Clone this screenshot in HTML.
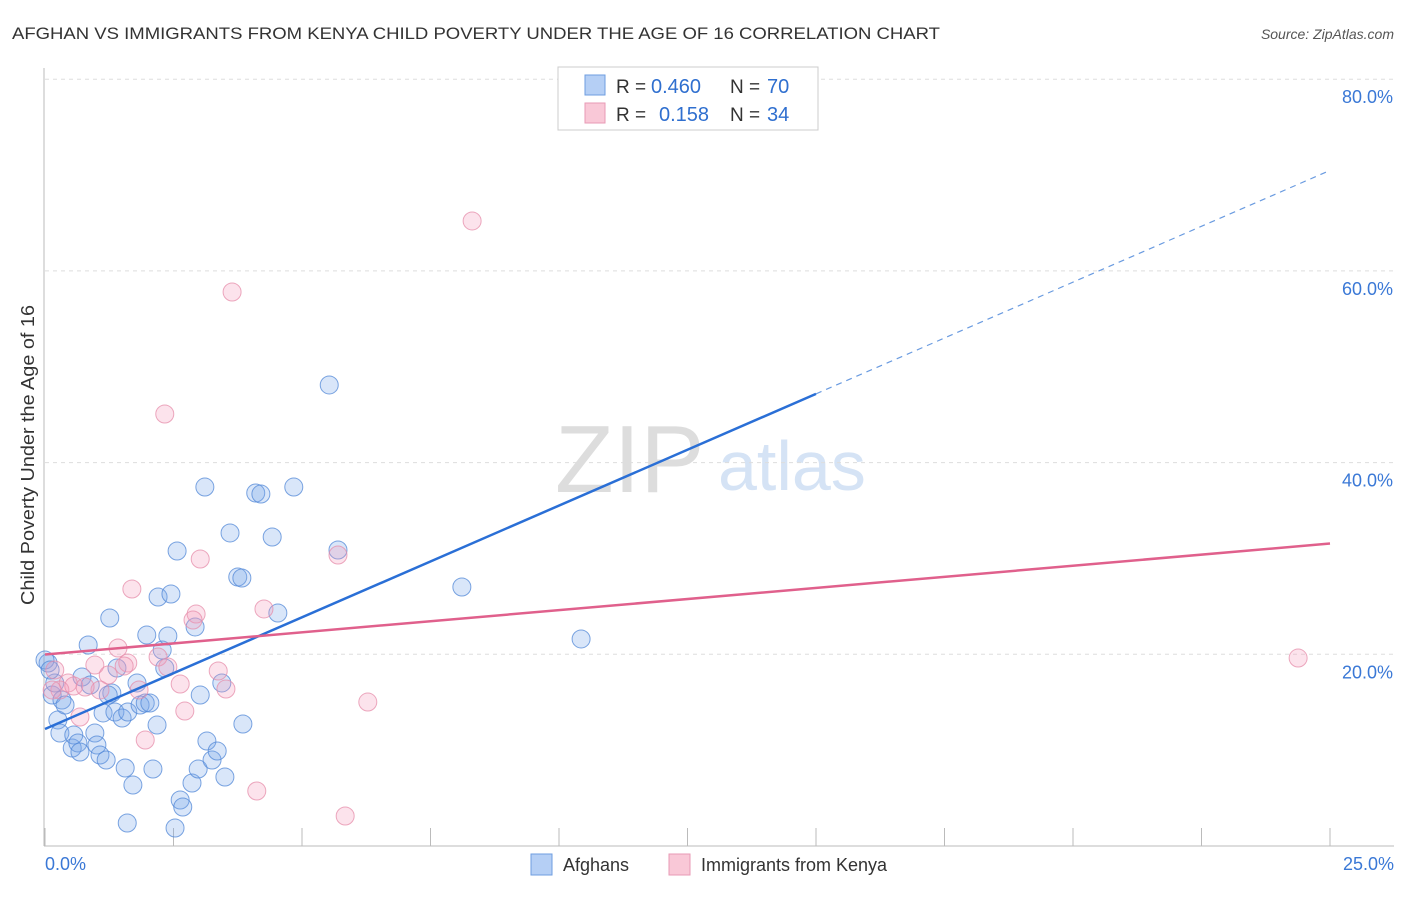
<!DOCTYPE html>
<html><head><meta charset="utf-8"><style>
body{margin:0;background:#fff;font-family:"Liberation Sans",sans-serif}
svg text{font-family:"Liberation Sans",sans-serif}
</style></head><body>
<svg id="c" width="1406" height="892" xmlns="http://www.w3.org/2000/svg">
<text x="12" y="39" font-size="17" fill="#333" textLength="928" lengthAdjust="spacingAndGlyphs">AFGHAN VS IMMIGRANTS FROM KENYA CHILD POVERTY UNDER THE AGE OF 16 CORRELATION CHART</text>
<text x="1394" y="39" font-size="14" fill="#555" font-style="italic" text-anchor="end">Source: ZipAtlas.com</text>
<text x="34" y="455" font-size="18" fill="#333" text-anchor="middle" textLength="300" lengthAdjust="spacingAndGlyphs" transform="rotate(-90 34 455)">Child Poverty Under the Age of 16</text>
<g>
<text x="555" y="492" font-size="96" fill="#ddd" font-family="Liberation Serif, serif">ZIP</text>
<text x="718" y="490" font-size="70" fill="#d5e3f5">atlas</text>
</g>
<g id="grid"></g><g id="axes"></g><g id="pts"></g><g id="lines"></g>
<g>
<rect x="558" y="67" width="260" height="63" fill="#fff" stroke="#ccc"/>
<rect x="585" y="75" width="20" height="20" fill="#b5cff5" stroke="#6e9de0"/>
<rect x="585" y="103" width="20" height="20" fill="#f9c8d7" stroke="#e89ab5"/>
<text x="616" y="93" font-size="19" fill="#333">R =</text>
<text x="651" y="93" font-size="20" fill="#2f6fcf">0.460</text>
<text x="730" y="93" font-size="19" fill="#333">N =</text>
<text x="767" y="93" font-size="20" fill="#2f6fcf">70</text>
<text x="616" y="121" font-size="19" fill="#333">R =</text>
<text x="659" y="121" font-size="20" fill="#2f6fcf">0.158</text>
<text x="730" y="121" font-size="19" fill="#333">N =</text>
<text x="767" y="121" font-size="20" fill="#2f6fcf">34</text>
</g>
<g>
<rect x="531" y="854" width="21" height="21" fill="#b5cff5" stroke="#6e9de0"/>
<text x="563" y="871" font-size="18" fill="#333">Afghans</text>
<rect x="669" y="854" width="21" height="21" fill="#f9c8d7" stroke="#e89ab5"/>
<text x="701" y="871" font-size="18" fill="#333">Immigrants from Kenya</text>
</g>
</svg>
<script>
const blueX=[0.06,0.14,0.19,0.25,0.33,0.29,0.39,0.53,0.56,0.64,0.68,0.72,0.84,0.88,0.97,1.01,1.07,1.13,1.19,1.26,1.30,1.36,1.40,1.50,1.56,1.61,1.60,1.71,1.79,1.85,1.95,1.98,2.04,2.10,2.18,2.20,2.28,2.33,2.39,2.45,2.53,2.57,2.63,2.68,2.86,2.92,2.98,3.02,3.11,3.15,3.25,3.35,3.44,3.50,3.60,3.75,3.83,3.85,4.10,4.20,4.42,4.53,4.84,5.53,5.70,8.11,10.43,0.00,0.10,1.23];
const blueY=[19.09,15.75,17.01,13.15,15.23,11.79,14.71,10.22,11.58,10.75,9.81,17.63,20.97,16.80,11.79,10.54,9.49,13.88,8.97,23.79,15.96,13.98,18.57,13.35,8.14,13.98,2.40,6.36,17.01,14.71,14.92,22.01,14.92,8.03,12.62,25.98,20.45,18.57,21.91,26.29,1.88,30.78,4.80,4.07,6.57,22.85,8.03,15.75,37.45,10.95,8.97,9.91,17.01,7.20,32.66,28.06,27.96,12.73,36.83,36.72,32.24,24.31,37.45,48.10,30.88,27.02,21.60,19.41,18.36,15.75];
const pinkX=[8.31,3.64,2.33,3.02,5.70,1.69,2.94,4.26,2.88,1.42,2.20,2.39,1.61,1.54,0.97,3.37,1.23,2.63,3.52,1.83,1.07,0.45,0.29,0.14,0.19,0.56,0.78,0.68,2.72,1.95,6.28,4.12,5.84,24.38];
const pinkY=[65.21,57.80,45.07,29.94,30.36,26.81,24.20,24.73,23.58,20.66,19.72,18.67,19.09,18.78,18.88,18.26,17.84,16.90,16.38,16.28,16.28,17.01,16.28,16.28,18.36,16.69,16.59,13.46,14.08,11.06,15.02,5.74,3.13,19.61];
const yTicks=[20,40,60,80];
const yTickLabels=["20.0%","40.0%","60.0%","80.0%"];
const xTicks=[0,2.5,5,7.5,10,12.5,15,17.5,20,22.5,25];
const xEndLabels=["0.0%","25.0%"];
const NS="http://www.w3.org/2000/svg";
const sx=v=>45+v*1285/25, sy=v=>846-v*9.585;
function mk(t,a,p){const e=document.createElementNS(NS,t);for(const k in a)e.setAttribute(k,a[k]);p.appendChild(e);return e;}
const grid=document.getElementById('grid'),axes=document.getElementById('axes'),pts=document.getElementById('pts'),lines=document.getElementById('lines');
yTicks.forEach((v,i)=>{
 const l=mk('line',{x1:45,x2:1394,y1:sy(v),y2:sy(v),stroke:'#ddd','stroke-dasharray':'4,4'},grid);
 
 
 const t=mk('text',{x:1393,y:sy(v)+24,'font-size':18,fill:'#3a78d6','text-anchor':'end'},axes);
 t.textContent=yTickLabels[i];
 
 
});
const ax=mk('line',{x1:44,x2:44,y1:68,y2:846,stroke:'#bbb'},axes);


const bx=mk('line',{x1:44,x2:1394,y1:846,y2:846,stroke:'#bbb'},axes);


xTicks.forEach(v=>{const t=mk('line',{x1:sx(v),x2:sx(v),y1:828,y2:846,stroke:'#bbb'},axes);
 
 });
[[0,'start',45],[25,'end',1394]].forEach((d,i)=>{const t=mk('text',{x:d[2],y:870,'font-size':18,fill:'#3a78d6','text-anchor':d[1]},axes);t.textContent=xEndLabels[i];
 
 });
function dots(X,Y,fill,stroke,name){X.forEach((x,i)=>{const c=mk('circle',{cx:sx(x),cy:sy(Y[i]),r:9,fill:fill,stroke:stroke,'stroke-width':1},pts);
 
 });}
dots(blueX,blueY,'rgba(120,165,235,0.28)','rgba(80,135,215,0.75)','afghans-point');
dots(pinkX,pinkY,'rgba(245,155,185,0.28)','rgba(230,140,170,0.75)','kenya-point');
function fit(X,Y){const n=X.length,mx=X.reduce((a,b)=>a+b)/n,my=Y.reduce((a,b)=>a+b)/n;let sxy=0,sxx=0;X.forEach((x,i)=>{sxy+=(x-mx)*(Y[i]-my);sxx+=(x-mx)*(x-mx);});const b=sxy/sxx;return [my-b*mx,b];}
const fb=fit(blueX,blueY),fp=fit(pinkX,pinkY);
const l1=mk('line',{x1:sx(0),y1:sy(fb[0]),x2:sx(15),y2:sy(fb[0]+fb[1]*15),stroke:'#2a6fd6','stroke-width':2.5},lines);


const l2=mk('line',{x1:sx(15),y1:sy(fb[0]+fb[1]*15),x2:sx(25),y2:sy(fb[0]+fb[1]*25),stroke:'#6a9be0','stroke-width':1.2,'stroke-dasharray':'6,5'},lines);


const l3=mk('line',{x1:sx(0),y1:sy(fp[0]),x2:sx(25),y2:sy(fp[0]+fp[1]*25),stroke:'#e0608c','stroke-width':2.5},lines);


</script>
</body></html>
